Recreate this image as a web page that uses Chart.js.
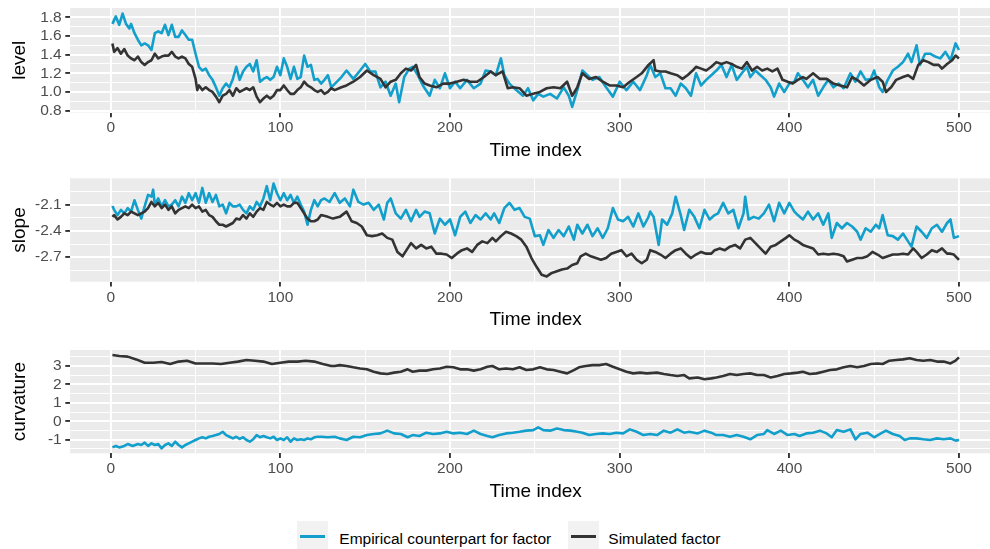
<!DOCTYPE html>
<html>
<head>
<meta charset="utf-8">
<script src="https://cdn.jsdelivr.net/npm/chart.js@4/dist/chart.umd.min.js"></script>
<style>
html,body{margin:0;padding:0;background:#fff;width:990px;height:549px;overflow:hidden}
#wrap{position:relative;width:990px;height:549px;overflow:hidden;background:#fff}
.pane{position:absolute;left:0}
canvas{display:block}
.lg{position:absolute;font-family:"Liberation Sans",Arial,sans-serif;font-size:15.5px;line-height:20px;color:#000;white-space:nowrap}
.key{position:absolute;background:#F2F2F2}
.kl{position:absolute;height:2.6px}
</style>
</head>
<body>
<div id="wrap">
  <div class="pane" style="top:0px"><canvas id="c1" width="1002" height="165"></canvas></div>
  <div class="pane" style="top:165px"><canvas id="c2" width="1002" height="170"></canvas></div>
  <div class="pane" style="top:335px"><canvas id="c3" width="1002" height="180"></canvas></div>
  <div class="key" style="left:297.3px;top:521.3px;width:31px;height:31px"></div>
  <div class="kl" style="left:300px;top:535px;width:25px;background:#129FCB"></div>
  <div class="lg" style="left:339.3px;top:528.9px">Empirical counterpart for factor</div>
  <div class="key" style="left:567.7px;top:521.3px;width:31px;height:31px"></div>
  <div class="kl" style="left:570.7px;top:535px;width:25px;background:#333333"></div>
  <div class="lg" style="left:608.3px;top:528.9px">Simulated factor</div>
</div>
<script>
// ---------- axis ticks ----------
const xMajor = [0, 100, 200, 300, 400, 500];
const xLabels = ["0", "100", "200", "300", "400", "500"];
const xMinor = [50, 150, 250, 350, 450];

const levelMajor = [0.8, 1.0, 1.2, 1.4, 1.6, 1.8];
const levelLabels = ["0.8", "1.0", "1.2", "1.4", "1.6", "1.8"];
const levelMinor = [0.9, 1.1, 1.3, 1.5, 1.7];

const slopeMajor = [-2.7, -2.4, -2.1];
const slopeLabels = ["-2.7", "-2.4", "-2.1"];
const slopeMinor = [-2.85, -2.55, -2.25, -1.95];

const curvMajor = [-1, 0, 1, 2, 3];
const curvLabels = ["-1", "0", "1", "2", "3"];
const curvMinor = [-1.5, -0.5, 0.5, 1.5, 2.5, 3.5];

// ---------- level ----------
const levelEmpT = [1,3,5,7,9,11,12,14,16,18,20,22,24,26,28,30,32,34,36,38,40,42,44,46,48,50,52,54,56,58,60,62,64,66,68,70,72,74,76,78,80,82,84,86,88,90,92,94,96,98,100,102,104,106,108,110,112,114,116,118,120,122,124,126,128,130,
136,139,143,147,150,153,156,159,162,165,168,170,173,176,178,181,184,188,191,194,197,200,203,206,210,214,218,221,224,227,230,232,235,239,243,246,249,252,255,259,263,267,270,272,275,278,281,284,288,292,296,300,304,308,312,316,
318,321,324,327,330,333,336,339,342,345,348,351,354,357,360,363,366,369,372,375,377,380,383,386,389,391,394,397,400,403,405,408,411,414,417,420,423,426,429,432,436,439,442,445,448,450,453,455,458,461,464,467,470,472,475,477,480,483,486,489,492,495,498,500];
const levelEmp = [1.73,1.81,1.72,1.84,1.73,1.68,1.73,1.63,1.56,1.50,1.52,1.50,1.45,1.63,1.65,1.63,1.72,1.61,1.72,1.59,1.59,1.66,1.61,1.56,1.56,1.41,1.27,1.23,1.25,1.18,1.13,1.05,0.96,1.04,1.09,1.05,1.14,1.27,1.13,1.22,1.27,1.30,1.22,1.34,1.11,1.14,1.16,1.13,1.16,1.27,1.18,1.36,1.27,1.14,1.27,1.14,1.16,1.39,1.27,1.29,1.13,1.14,1.09,1.13,1.18,1.05,
1.16,1.23,1.14,1.23,1.30,1.22,1.22,1.05,1.11,0.96,1.09,0.89,1.16,1.25,1.27,1.18,1.07,0.96,1.13,1.04,1.20,1.04,1.11,1.04,1.13,1.04,1.09,1.23,1.22,1.18,1.36,1.18,1.09,1.02,0.96,1.04,0.91,0.98,0.95,0.98,0.93,1.05,0.96,0.84,1.02,1.23,1.18,1.13,1.16,1.05,0.95,1.11,1.02,1.11,1.02,1.18,
1.29,1.16,1.20,1.04,1.04,0.96,1.09,1.04,0.96,1.20,1.07,1.13,1.18,1.23,1.29,1.16,1.29,1.13,1.20,1.27,1.16,1.23,1.18,1.13,1.05,0.95,1.09,1.00,1.09,1.11,1.20,1.13,1.05,1.13,0.96,1.05,1.13,1.05,1.09,1.04,1.20,1.11,1.22,1.13,1.14,1.23,1.05,1.00,1.13,1.23,1.27,1.32,1.41,1.32,1.50,1.29,1.41,1.41,1.38,1.36,1.43,1.34,1.52,1.45];

const levelSimT = [1,2,4,6,8,10,12,14,16,18,20,22,24,26,28,30,32,34,36,38,40,42,44,46,48,50,51,52,54,56,58,60,62,64,66,68,70,72,74,76,78,80,82,84,86,88,90,92,94,96,98,100,102,104,106,108,110,112,114,116,118,120,122,124,126,128,130,
132,136,139,143,147,151,155,159,162,165,168,171,174,177,180,182,185,188,192,196,200,204,208,212,216,220,224,227,231,234,237,241,245,249,253,257,261,265,269,272,275,278,282,286,290,294,298,302,306,310,313,317,320,
321,324,327,330,334,337,340,343,345,348,351,354,357,360,363,366,369,372,375,378,381,384,387,390,393,396,399,402,405,408,410,414,418,422,426,430,434,437,440,444,448,452,455,457,460,463,467,470,473,476,479,482,485,488,490,493,496,498,500];
const levelSim = [1.52,1.43,1.47,1.41,1.46,1.39,1.36,1.34,1.38,1.32,1.29,1.32,1.34,1.41,1.36,1.38,1.39,1.39,1.43,1.38,1.36,1.38,1.36,1.30,1.27,1.14,1.02,1.07,1.02,1.05,1.02,1.00,0.95,0.89,0.96,0.98,1.02,0.96,1.04,1.00,1.02,1.04,1.02,1.05,0.95,0.89,0.93,0.96,0.93,0.96,1.02,1.02,1.07,1.02,0.98,0.98,1.02,1.05,1.11,1.07,1.05,1.02,1.00,1.02,0.98,1.00,1.04,
1.02,1.05,1.07,1.11,1.16,1.23,1.18,1.14,1.05,1.11,1.13,1.20,1.25,1.23,1.29,1.16,1.09,1.07,1.05,1.09,1.09,1.11,1.13,1.11,1.11,1.16,1.22,1.18,1.22,1.04,1.05,1.04,0.96,0.98,1.00,1.04,1.05,1.04,1.11,0.96,1.05,1.20,1.14,1.16,1.11,1.07,1.07,1.05,1.11,1.16,1.20,1.29,1.34,
1.23,1.22,1.22,1.20,1.18,1.14,1.18,1.23,1.27,1.25,1.23,1.27,1.32,1.30,1.32,1.30,1.27,1.25,1.32,1.23,1.27,1.23,1.25,1.22,1.25,1.13,1.11,1.09,1.13,1.16,1.14,1.20,1.14,1.14,1.09,1.07,1.05,1.16,1.13,1.07,1.13,1.16,1.11,1.00,1.05,1.13,1.16,1.18,1.14,1.29,1.34,1.32,1.29,1.29,1.25,1.30,1.34,1.39,1.36];

// ---------- slope ----------
const slopeEmpT = [1,2,4,6,8,10,12,14,16,18,20,22,24,25,26,28,30,32,34,36,38,40,42,44,46,48,50,52,54,56,58,60,62,64,66,68,70,72,74,76,78,80,82,84,86,88,90,92,94,96,98,100,102,104,106,108,110,112,114,116,118,120,122,
124,126,129,132,135,138,141,143,146,149,152,155,158,161,163,165,168,171,174,177,180,182,185,188,191,194,197,200,203,206,209,212,215,218,221,224,226,229,232,235,238,241,244,247,250,253,255,258,261,264,267,270,273,275,278,281,284,287,290,293,296,299,302,305,308,311,314,317,
318,320,323,325,328,331,333,336,338,341,344,347,350,353,356,358,361,364,367,370,373,374,376,379,382,385,388,391,394,397,400,403,405,408,411,414,417,420,423,425,428,431,434,437,440,442,445,448,451,453,455,458,461,464,467,470,472,475,478,481,484,487,490,493,495,497,500];
const slopeEmp = [-2.115,-2.16,-2.22,-2.16,-2.20,-2.14,-2.18,-2.05,-2.16,-2.26,-2.12,-1.99,-2.01,-1.93,-2.10,-2.03,-2.12,-2.05,-2.12,-2.10,-2.05,-2.12,-2.01,-2.08,-1.97,-2.05,-1.97,-2.08,-1.91,-2.08,-1.97,-2.07,-1.99,-2.12,-2.10,-2.20,-2.08,-2.12,-2.12,-2.10,-2.16,-2.20,-2.12,-2.16,-2.07,-2.12,-2.03,-1.89,-2.05,-1.86,-1.97,-2.05,-1.97,-2.05,-1.99,-2.08,-2.01,-2.10,-2.18,-2.33,-2.16,-2.05,-2.12,
-2.05,-2.03,-2.07,-1.97,-2.08,-2.03,-2.12,-1.93,-2.07,-2.10,-2.08,-2.16,-2.10,-2.27,-2.08,-2.03,-2.20,-2.26,-2.16,-2.29,-2.16,-2.24,-2.18,-2.20,-2.43,-2.26,-2.33,-2.27,-2.45,-2.24,-2.18,-2.31,-2.22,-2.27,-2.20,-2.27,-2.20,-2.31,-2.14,-2.08,-2.16,-2.14,-2.24,-2.26,-2.46,-2.45,-2.56,-2.39,-2.48,-2.39,-2.46,-2.35,-2.50,-2.33,-2.43,-2.33,-2.46,-2.37,-2.48,-2.37,-2.14,-2.27,-2.29,-2.24,-2.35,-2.20,-2.35,-2.24,
-2.18,-2.24,-2.56,-2.27,-2.33,-2.20,-2.01,-2.22,-2.39,-2.16,-2.24,-2.37,-2.16,-2.27,-2.22,-2.20,-2.08,-2.20,-2.16,-2.37,-2.20,-2.01,-2.27,-2.24,-2.26,-2.20,-2.10,-2.29,-2.08,-2.20,-2.08,-2.18,-2.22,-2.27,-2.18,-2.27,-2.20,-2.33,-2.20,-2.48,-2.31,-2.37,-2.31,-2.35,-2.41,-2.50,-2.37,-2.41,-2.33,-2.37,-2.22,-2.45,-2.46,-2.50,-2.43,-2.52,-2.58,-2.35,-2.41,-2.48,-2.37,-2.33,-2.41,-2.31,-2.27,-2.48,-2.46];

const slopeSimT = [1,2,4,6,8,10,12,14,16,18,20,22,24,26,28,30,32,34,36,38,40,42,44,46,48,50,52,54,56,58,60,62,64,66,68,70,72,74,76,78,80,82,84,86,88,90,92,94,96,98,100,102,104,106,108,110,112,114,116,118,120,122,
124,128,131,135,139,142,145,148,151,154,157,160,163,166,169,172,175,177,180,183,186,189,192,195,198,201,204,207,210,213,216,219,222,225,227,230,233,236,239,242,245,248,251,254,257,260,263,266,269,272,275,277,280,283,286,289,292,295,298,301,304,307,310,313,316,
318,321,324,327,330,333,336,339,342,345,348,351,354,356,359,362,365,368,371,374,377,380,383,386,389,392,395,398,400,403,405,408,411,414,417,420,423,426,429,432,434,437,440,443,446,449,452,455,458,461,464,467,470,473,475,478,481,484,487,490,493,495,497,500];
const slopeSim = [-2.24,-2.22,-2.27,-2.24,-2.20,-2.22,-2.18,-2.20,-2.22,-2.20,-2.18,-2.14,-2.07,-2.12,-2.08,-2.14,-2.10,-2.16,-2.12,-2.20,-2.16,-2.14,-2.12,-2.14,-2.10,-2.14,-2.12,-2.18,-2.16,-2.22,-2.24,-2.29,-2.33,-2.33,-2.35,-2.33,-2.31,-2.26,-2.27,-2.22,-2.26,-2.20,-2.24,-2.18,-2.14,-2.16,-2.07,-2.10,-2.12,-2.08,-2.12,-2.10,-2.12,-2.12,-2.08,-2.08,-2.14,-2.20,-2.26,-2.29,-2.29,-2.27,
-2.22,-2.24,-2.26,-2.24,-2.18,-2.29,-2.31,-2.35,-2.45,-2.46,-2.45,-2.43,-2.48,-2.50,-2.64,-2.69,-2.60,-2.54,-2.60,-2.56,-2.60,-2.58,-2.66,-2.66,-2.67,-2.71,-2.66,-2.62,-2.60,-2.64,-2.56,-2.52,-2.54,-2.48,-2.52,-2.46,-2.41,-2.43,-2.46,-2.50,-2.58,-2.71,-2.81,-2.90,-2.92,-2.88,-2.86,-2.84,-2.83,-2.79,-2.77,-2.69,-2.66,-2.69,-2.71,-2.73,-2.71,-2.66,-2.64,-2.62,-2.69,-2.66,-2.73,-2.77,-2.73,
-2.62,-2.64,-2.67,-2.71,-2.66,-2.62,-2.60,-2.66,-2.71,-2.67,-2.64,-2.66,-2.66,-2.62,-2.60,-2.62,-2.58,-2.56,-2.60,-2.50,-2.48,-2.54,-2.60,-2.66,-2.58,-2.56,-2.52,-2.48,-2.45,-2.50,-2.52,-2.56,-2.58,-2.60,-2.67,-2.66,-2.67,-2.66,-2.67,-2.69,-2.75,-2.73,-2.71,-2.71,-2.69,-2.64,-2.67,-2.71,-2.69,-2.67,-2.67,-2.66,-2.67,-2.60,-2.64,-2.71,-2.67,-2.62,-2.64,-2.60,-2.66,-2.66,-2.67,-2.73];

// ---------- curvature ----------
const curvEmpT = [1,3,5,8,10,13,16,18,20,22,24,26,28,30,32,34,36,38,40,42,44,46,48,50,52,54,56,58,60,62,64,66,68,70,72,74,76,78,80,82,84,86,88,90,92,94,96,98,100,102,104,106,108,110,112,114,116,118,120,122,
124,128,132,135,139,143,147,151,155,159,163,167,171,175,178,182,186,190,194,198,202,206,210,214,218,222,225,229,233,237,241,245,249,252,255,259,263,267,271,275,278,282,286,290,294,298,302,306,310,314,318,
322,326,330,334,338,341,346,350,354,357,361,365,369,373,377,381,385,387,391,395,399,403,406,410,414,418,422,425,428,432,436,439,442,446,450,454,457,461,465,468,471,475,479,483,487,491,495,498,500];
const curvEmp = [-1.42,-1.34,-1.42,-1.34,-1.24,-1.34,-1.24,-1.29,-1.16,-1.34,-1.20,-1.29,-1.24,-1.47,-1.29,-1.20,-1.34,-1.11,-1.29,-1.42,-1.29,-1.20,-1.11,-1.02,-0.93,-0.87,-0.93,-0.84,-0.80,-0.75,-0.69,-0.57,-0.75,-0.84,-0.93,-0.84,-0.96,-0.87,-1.02,-1.11,-0.98,-0.75,-0.87,-0.80,-0.87,-0.93,-0.84,-1.02,-0.93,-1.02,-0.87,-1.11,-0.93,-1.02,-0.98,-1.02,-0.93,-0.98,-0.87,-0.84,
-0.84,-0.87,-0.84,-0.93,-1.02,-0.84,-0.87,-0.75,-0.69,-0.66,-0.51,-0.66,-0.69,-0.87,-0.75,-0.80,-0.62,-0.69,-0.66,-0.57,-0.66,-0.62,-0.69,-0.51,-0.69,-0.80,-0.87,-0.75,-0.66,-0.62,-0.57,-0.51,-0.48,-0.33,-0.48,-0.51,-0.39,-0.48,-0.51,-0.57,-0.62,-0.75,-0.69,-0.66,-0.69,-0.62,-0.66,-0.44,-0.57,-0.75,-0.69,
-0.75,-0.51,-0.62,-0.44,-0.62,-0.57,-0.66,-0.51,-0.62,-0.75,-0.75,-0.84,-0.75,-0.84,-0.98,-0.75,-0.69,-0.48,-0.69,-0.51,-0.75,-0.69,-0.80,-0.66,-0.62,-0.51,-0.66,-0.87,-0.48,-0.57,-0.44,-0.98,-0.69,-0.62,-0.87,-0.66,-0.51,-0.69,-0.80,-1.02,-0.93,-0.93,-0.98,-1.02,-0.93,-0.98,-0.93,-1.05,-1.02];

const curvSimT = [1,5,10,15,20,25,30,35,40,45,50,55,60,65,70,75,80,85,90,95,100,105,110,115,120,125,130,
132,135,139,143,147,151,155,159,163,167,171,175,178,182,186,190,194,198,202,206,210,214,218,222,225,229,233,237,241,245,249,253,257,261,265,269,273,276,280,284,288,292,296,300,304,308,312,316,
322,326,330,334,338,341,346,350,354,357,361,365,369,373,377,381,385,389,393,397,401,405,408,412,416,420,424,428,432,436,440,444,448,452,455,459,463,467,471,475,479,483,487,491,495,498,500];
const curvSim = [3.60,3.54,3.51,3.36,3.18,3.18,3.22,3.11,3.24,3.29,3.14,3.14,3.14,3.11,3.18,3.24,3.33,3.29,3.24,3.11,3.18,3.24,3.24,3.29,3.24,3.11,3.00,
3.00,3.05,3.00,2.93,2.87,2.82,2.69,2.60,2.57,2.64,2.69,2.82,2.69,2.75,2.75,2.82,2.87,2.96,2.93,2.82,2.82,2.75,2.82,2.96,3.00,2.82,2.87,2.82,2.93,2.78,2.82,2.93,2.82,2.78,2.69,2.60,2.78,2.93,3.00,3.05,3.05,3.11,2.96,2.82,2.69,2.60,2.64,2.60,
2.64,2.57,2.51,2.46,2.51,2.33,2.38,2.28,2.33,2.38,2.46,2.57,2.51,2.57,2.60,2.51,2.51,2.38,2.46,2.57,2.60,2.64,2.69,2.57,2.60,2.69,2.78,2.82,2.93,3.00,2.93,3.00,3.11,3.14,3.11,3.29,3.33,3.36,3.42,3.33,3.29,3.33,3.24,3.24,3.14,3.29,3.47];

// ---------- drawing ----------
const BLUE = "#129FCB";
const DARK = "#333333";
const FONT = '"Liberation Sans", Arial, sans-serif';

function pts(t, v) {
  const n = Math.min(t.length, v.length);
  const out = [];
  for (let i = 0; i < n; i++) out.push({x: t[i], y: v[i]});
  return out;
}
function findIdx(v, arr) { return arr.findIndex(a => Math.abs(a - v) < 1e-6); }
function tickSetter(major, minor) {
  return s => { s.ticks = major.concat(minor).sort((a, b) => a - b).map(v => ({value: v})); };
}
function gridOpts(major) {
  return {
    color: "#FFFFFF",
    lineWidth: c => (c.tick && findIdx(c.tick.value, major) >= 0) ? 1.9 : 0.95,
    tickColor: c => (c.tick && findIdx(c.tick.value, major) >= 0) ? "#333333" : "rgba(0,0,0,0)",
    tickWidth: 1.9,
    tickLength: 4.8,
    drawTicks: true
  };
}
const bgPlugin = {
  id: "panelBg",
  beforeDraw(chart) {
    const {ctx, chartArea: a} = chart;
    ctx.save();
    ctx.fillStyle = "#EBEBEB";
    ctx.fillRect(a.left, a.top, a.right - a.left, a.bottom - a.top);
    ctx.restore();
  }
};

function makePanel(id, p) {
  new Chart(document.getElementById(id), {
    type: "line",
    data: {
      datasets: [
        {label: "Simulated factor", data: pts(p.simT, p.sim), borderColor: DARK, order: 0},
        {label: "Empirical counterpart for factor", data: pts(p.empT, p.emp), borderColor: BLUE, order: 1}
      ]
    },
    options: {
      responsive: false,
      animation: false,
      events: [],
      layout: {padding: {top: p.padTop, right: 0.7, bottom: 0, left: 0}},
      plugins: {legend: {display: false}, tooltip: {enabled: false}},
      elements: {
        point: {radius: 0},
        line: {borderWidth: 2.6, tension: 0, borderJoinStyle: "round", fill: false}
      },
      scales: {
        x: {
          type: "linear", min: -23.95, max: 524.95,
          afterBuildTicks: tickSetter(xMajor, xMinor),
          afterFit: s => { s.height = p.xH; s.paddingLeft = 0; s.paddingRight = 0; s.paddingTop = 0; s.paddingBottom = 0; },
          ticks: {
            autoSkip: false, maxRotation: 0, minRotation: 0, padding: 1.5,
            color: "#4D4D4D", font: {family: FONT, size: 15.5},
            callback: v => { const i = findIdx(v, xMajor); return i >= 0 ? xLabels[i] : ""; }
          },
          grid: gridOpts(xMajor),
          border: {display: false},
          title: {display: true, text: "Time index", color: "#000000", font: {family: FONT, size: 19}, padding: {top: 0, bottom: p.titlePad}}
        },
        y: {
          type: "linear", min: p.yMin, max: p.yMax,
          afterBuildTicks: tickSetter(p.major, p.minor),
          afterFit: s => { s.width = 70.1; s.paddingLeft = 0; s.paddingRight = 0; s.paddingTop = 0; s.paddingBottom = 0; },
          ticks: {
            autoSkip: false, padding: 3.6,
            color: "#4D4D4D", font: {family: FONT, size: 15.5},
            callback: v => { const i = findIdx(v, p.major); return i >= 0 ? p.labels[i] : ""; }
          },
          grid: gridOpts(p.major),
          border: {display: false},
          title: {display: true, text: p.name, color: "#000000", font: {family: FONT, size: 19}, padding: {top: 8.7, bottom: 0}}
        }
      }
    },
    plugins: [bgPlugin]
  });
}

makePanel("c1", {name: "level", empT: levelEmpT, emp: levelEmp, simT: levelSimT, sim: levelSim,
  yMin: 0.78, yMax: 1.90, major: levelMajor, minor: levelMinor, labels: levelLabels,
  padTop: 8, xH: 52.5, titlePad: 2.6});
makePanel("c2", {name: "slope", empT: slopeEmpT, emp: slopeEmp, simT: slopeSimT, sim: slopeSim,
  yMin: -2.98, yMax: -1.80, major: slopeMajor, minor: slopeMinor, labels: slopeLabels,
  padTop: 13.3, xH: 53.3, titlePad: 3.4});
makePanel("c3", {name: "curvature", empT: curvEmpT, emp: curvEmp, simT: curvSimT, sim: curvSim,
  yMin: -1.74, yMax: 3.87, major: curvMajor, minor: curvMinor, labels: curvLabels,
  padTop: 15, xH: 61.7, titlePad: 11.8});
</script>
</body>
</html>
